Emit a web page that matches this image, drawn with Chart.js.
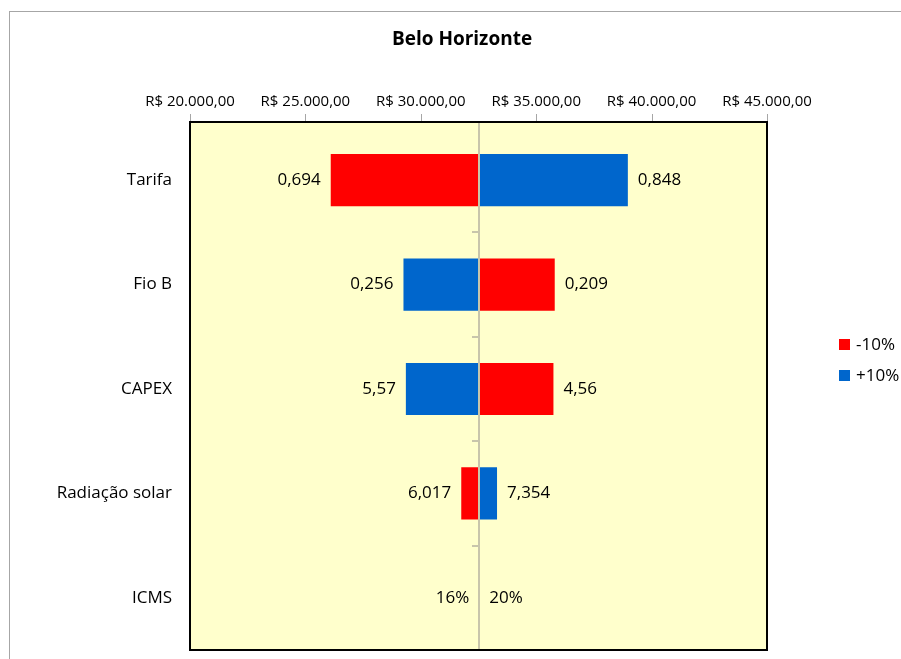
<!DOCTYPE html>
<html>
<head>
<meta charset="utf-8">
<script src="https://cdn.jsdelivr.net/npm/chart.js@4/dist/chart.umd.min.js"></script>
<style>
  html, body { margin: 0; padding: 0; background: #ffffff; overflow: hidden; }
  #wrap { position: absolute; left: 0; top: 0; width: 901px; height: 659px; overflow: hidden; }
  #chart { display: block; }
  #frame { position: absolute; left: 9px; top: 11px; width: 892px; height: 648px;
           border-top: 1px solid #a6a6a6; border-left: 1px solid #a6a6a6; pointer-events: none; box-sizing: border-box; }
</style>
</head>
<body>
<div id="wrap">
  <canvas id="chart" width="901" height="659"></canvas>
  <div id="frame"></div>
</div>
<script>
// Sensitivity of the cost result for Belo Horizonte (R$)
const categories = ['Tarifa', 'Fio B', 'CAPEX', 'Radiação solar', 'ICMS'];
const baseValue = 32535;
const minus10 = [26098, 35803, 35747, 31753, 32535];
const plus10  = [38971, 29249, 29353, 33303, 32535];
const minus10Labels = ['0,694', '0,209', '4,56', '6,017', '16%'];
const plus10Labels  = ['0,848', '0,256', '5,57', '7,354', '20%'];
const xTicks = [20000, 25000, 30000, 35000, 40000, 45000];

const FONT = '"Open Sans", "Noto Sans", sans-serif';
const RED = '#ff0000';
const BLUE = '#0066cc';
const FRAME_GAP = 6;   // inner margin between plot frame top and first category band

function brl(v) {
  const s = Math.round(v).toString().replace(/\B(?=(\d{3})+(?!\d))/g, '.');
  return 'R$ ' + s + ',00';
}

const decor = {
  id: 'decor',
  beforeDatasetsDraw(chart) {
    const { ctx, chartArea: a } = chart;
    const top = a.top - FRAME_GAP;
    ctx.save();
    ctx.fillStyle = '#ffffcc';
    ctx.fillRect(a.left, top, a.right - a.left, a.bottom - top);
    ctx.restore();
  },
  afterDatasetsDraw(chart) {
    const { ctx, chartArea: a, scales } = chart;
    const x = scales.x, y = scales.y;
    const top = a.top - FRAME_GAP;
    const cx = Math.round(x.getPixelForValue(baseValue));
    ctx.save();
    // value axis crossing line
    ctx.strokeStyle = '#c8c5ab';
    ctx.lineWidth = 2;
    ctx.beginPath();
    ctx.moveTo(cx, top);
    ctx.lineTo(cx, a.bottom);
    ctx.stroke();
    // category separators as short ticks on the crossing line
    const n = categories.length;
    for (let i = 1; i < n; i++) {
      const yy = Math.round((y.getPixelForValue(i - 1) + y.getPixelForValue(i)) / 2);
      ctx.beginPath();
      ctx.moveTo(cx - 7, yy);
      ctx.lineTo(cx, yy);
      ctx.stroke();
    }
    // value axis tick marks above the frame
    ctx.strokeStyle = '#a6a6a6';
    ctx.lineWidth = 1;
    xTicks.forEach(v => {
      const px = Math.round(x.getPixelForValue(v)) + 0.5;
      ctx.beginPath();
      ctx.moveTo(px, top - 8);
      ctx.lineTo(px, top);
      ctx.stroke();
    });
    // value labels at the outer end of each bar
    ctx.font = '17px ' + FONT;
    ctx.fillStyle = '#000000';
    ctx.textBaseline = 'middle';
    const put = (vals, labels, defaultLeft) => {
      vals.forEach((v, i) => {
        const py = y.getPixelForValue(i);
        const px = x.getPixelForValue(v);
        const left = v < baseValue || (v === baseValue && defaultLeft);
        if (left) { ctx.textAlign = 'right'; ctx.fillText(labels[i], px - 10, py); }
        else { ctx.textAlign = 'left'; ctx.fillText(labels[i], px + 10, py); }
      });
    };
    put(minus10, minus10Labels, true);
    put(plus10, plus10Labels, false);
    // plot frame
    ctx.strokeStyle = '#000000';
    ctx.lineWidth = 2;
    ctx.strokeRect(a.left, top, a.right - a.left, a.bottom - top);
    // title
    ctx.font = 'bold 19px ' + FONT;
    ctx.textAlign = 'center';
    ctx.fillText('Belo Horizonte', 462, 40);
    // legend
    ctx.font = '17px ' + FONT;
    ctx.textAlign = 'left';
    const items = [[RED, '-10%', 344], [BLUE, '+10%', 375]];
    items.forEach(([c, t, yy]) => {
      ctx.fillStyle = c;
      ctx.fillRect(839, yy - 5, 11, 11);
      ctx.fillStyle = '#000000';
      ctx.fillText(t, 856, yy + 1);
    });
    ctx.restore();
  }
};

const toRange = vals => vals.map(v => [baseValue, v]);

new Chart(document.getElementById('chart'), {
  type: 'bar',
  data: {
    labels: categories,
    datasets: [
      { label: '-10%', data: toRange(minus10), backgroundColor: RED, grouped: false, borderWidth: 0 },
      { label: '+10%', data: toRange(plus10), backgroundColor: BLUE, grouped: false, borderWidth: 0 }
    ]
  },
  options: {
    indexAxis: 'y',
    responsive: false,
    maintainAspectRatio: false,
    animation: false,
    devicePixelRatio: 1,
    layout: { padding: { left: 0, right: 134, top: 0, bottom: 9 } },
    barPercentage: 0.5,
    categoryPercentage: 1,
    plugins: { legend: { display: false }, tooltip: { enabled: false }, title: { display: false } },
    scales: {
      x: {
        position: 'top',
        min: 20000,
        max: 45000,
        afterBuildTicks(scale) { scale.ticks = xTicks.map(v => ({ value: v })); },
        afterFit(scale) { scale.height = 128; scale.paddingLeft = 0; scale.paddingRight = 0; },
        ticks: {
          callback: v => brl(v),
          color: '#000000',
          font: { family: FONT, size: 15 },
          padding: 17,
          maxRotation: 0,
          autoSkip: false
        },
        grid: { display: false, drawOnChartArea: false, drawTicks: false },
        border: { display: false }
      },
      y: {
        afterFit(scale) { scale.width = 190; scale.paddingTop = 0; scale.paddingBottom = 0; },
        ticks: { color: '#000000', font: { family: FONT, size: 17 }, padding: 18 },
        grid: { display: false, drawTicks: false },
        border: { display: false }
      }
    }
  },
  plugins: [decor]
});
</script>
</body>
</html>
